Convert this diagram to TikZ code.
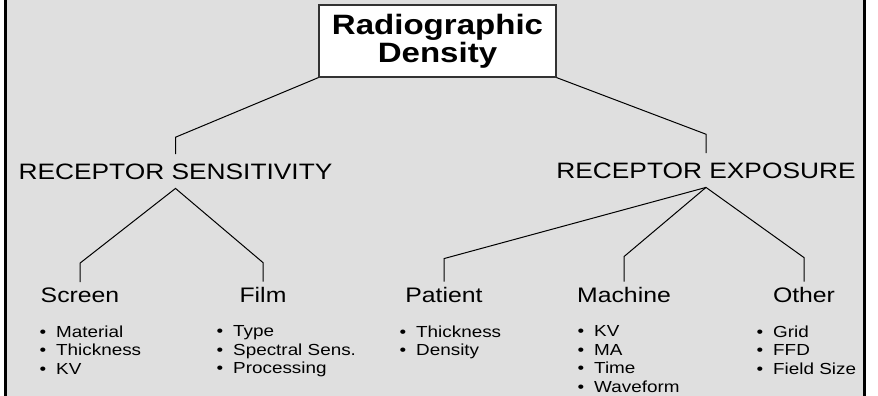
\documentclass[tikz,border=0pt]{standalone}
\usepackage{fontspec}
\setmainfont{Liberation Sans}[FakeStretch=1.18]
\newcommand{\itm}[1]{\llap{\textbullet\hspace{10pt}}#1}
\definecolor{panel}{RGB}{223,223,223}

\begin{document}
\begin{tikzpicture}[x=1pt, y=-1pt,
  link/.style={line width=1pt},
  head/.style={font=\fontsize{22.3}{22.3}\selectfont, anchor=base, inner xsep=0pt, inner ysep=9pt},
  sub/.style={font=\fontsize{21}{21}\selectfont, anchor=base, inner xsep=0pt, inner ysep=5pt},
  items/.style={font=\fontsize{16}{18.5}\selectfont, anchor=north west, align=left, inner sep=0pt}]
  \useasboundingbox (0,0) rectangle (878,396);
  \fill[panel] (7,0) rectangle (863,396);
  \draw[line width=3pt] (5.5,0) -- (5.5,396) (864.5,0) -- (864.5,396);

  \node[draw=black!80, line width=1.2pt, fill=white, minimum width=237pt, minimum height=72pt,
    font=\fontsize{28}{28}\selectfont\bfseries, align=center] (title) at (437.5,41) {Radiographic\\Density};

  \node[head] (sens) at (175.5,179) {RECEPTOR SENSITIVITY};
  \node[head] (expo) at (706,178) {RECEPTOR EXPOSURE};

  \foreach \name/\txt/\x in {screen/Screen/80, film/Film/263, patient/Patient/444,
      machine/Machine/624, other/Other/804} {
    \node[sub] (\name) at (\x,302) {\txt};
  }

  % lists hang from the top of their first line
  \node[items] (screen-list) at (56,325.5) {\itm{Material}\\\itm{Thickness}\\\itm{KV}};
  \node[items] (film-list) at (233,325.5) {\itm{Type}\\\itm{Spectral Sens.}\\\itm{Processing}};
  \node[items] (patient-list) at (416,325.5) {\itm{Thickness}\\\itm{Density}};
  \node[items] (machine-list) at (594,325.5) {\itm{KV}\\\itm{MA}\\\itm{Time}\\\itm{Waveform}};
  \node[items] (other-list) at (773,325.5) {\itm{Grid}\\\itm{FFD}\\\itm{Field Size}};

  \draw[link] (title.south west) -- ([yshift=17pt]sens.north) -- (sens.north);
  \draw[link] (title.south east) -- ([yshift=19pt]expo.north) -- (expo.north);

  \draw[link] (screen.north) -- ([yshift=19pt]screen.north) -- (sens.south)
    -- ([yshift=19pt]film.north) -- (film.north);
  \draw[link] (patient.north) -- ([yshift=23pt]patient.north) -- (expo.south);
  \draw[link] (machine.north) -- ([yshift=25pt]machine.north) -- (expo.south)
    -- ([yshift=24pt]other.north) -- (other.north);
\end{tikzpicture}
\end{document}
